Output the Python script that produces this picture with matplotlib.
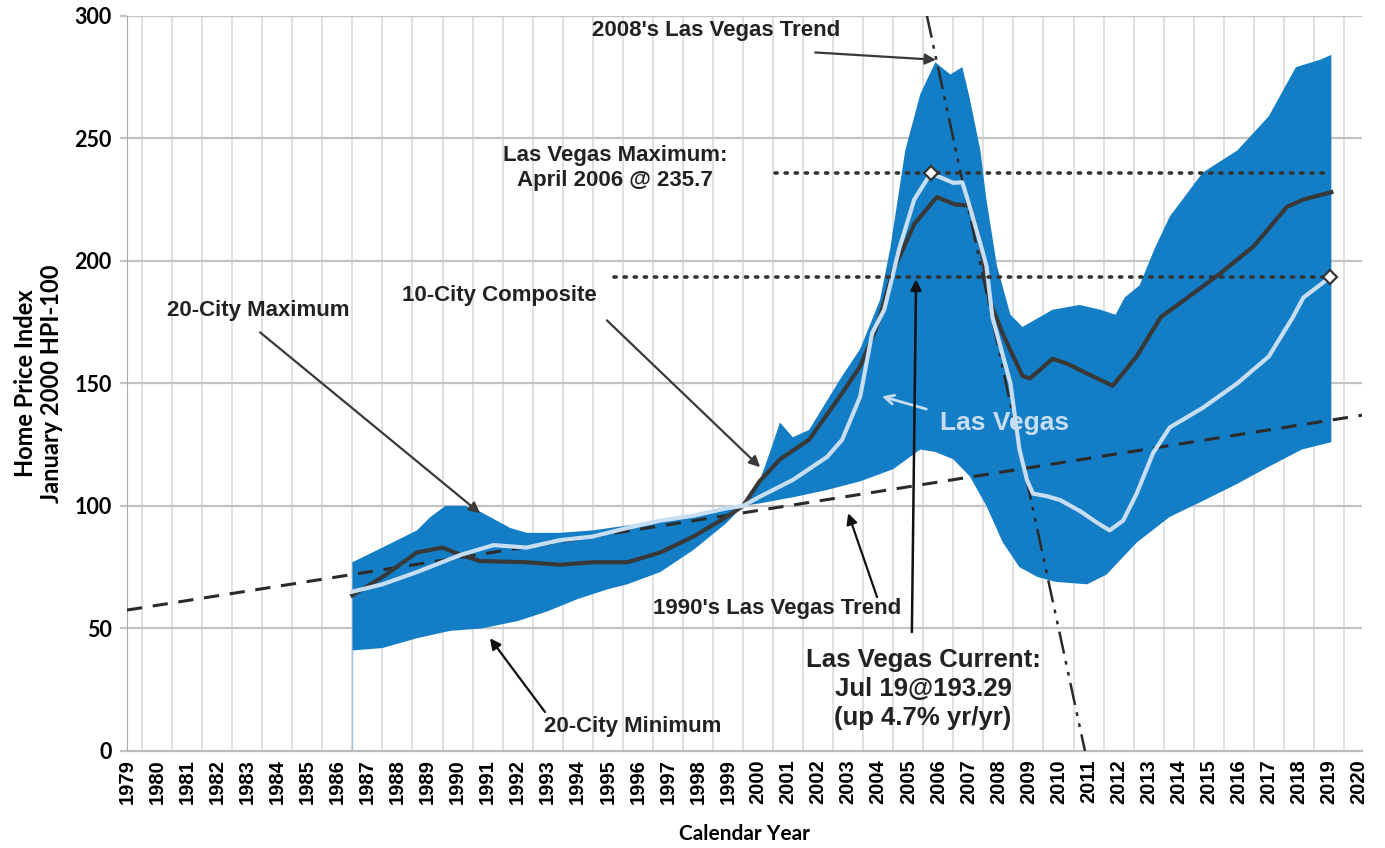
import numpy as np
import matplotlib
matplotlib.use("Agg")
import matplotlib.pyplot as plt
from matplotlib import font_manager

# ---- data (decimal years, index values) ----
max_x = [1987.0, 1988.0, 1989.15, 1989.6, 1990.1, 1990.75, 1991.2, 1992.25, 1992.8, 1993.9,
         1995.0, 1996.15, 1997.25, 1998.25, 1999.0, 2000.0, 2000.55, 2000.9, 2001.23, 2001.66,
         2002.2, 2003.3, 2003.9, 2004.56, 2004.9, 2005.4, 2005.9, 2006.4, 2006.9, 2007.3,
         2007.55, 2007.9, 2008.1, 2008.45, 2008.9, 2009.3, 2010.3, 2011.2, 2011.9, 2012.4,
         2012.7, 2013.2, 2013.7, 2014.2, 2015.3, 2016.45, 2017.5, 2018.4, 2019.2, 2019.58]
max_y = [77, 83, 90, 95.5, 100, 100, 98, 91, 89, 89,
         90, 92, 94, 96, 98, 100, 110, 122, 134, 128,
         131, 153, 164, 184, 205, 245, 268, 281, 276, 279,
         266, 245, 225, 198, 178, 173, 180, 182, 180, 178,
         185, 190, 205, 218, 236, 245, 259, 279, 282, 284]

min_x = [1987.0, 1988.0, 1989.15, 1990.25, 1991.3, 1992.5, 1993.5, 1994.5, 1995.5, 1996.15,
         1997.25, 1998.35, 1999.45, 2000.0, 2000.55, 2001.66, 2002.8, 2003.9, 2005.0, 2005.9,
         2006.4, 2007.0, 2007.55, 2008.1, 2008.65, 2009.2, 2009.8, 2010.4, 2011.45, 2012.1,
         2013.1, 2014.2, 2015.3, 2016.45, 2017.5, 2018.6, 2019.58]
min_y = [41, 42, 46, 49, 50, 53, 57, 62, 66, 68,
         73, 82, 93, 100, 101, 103.5, 106.5, 110, 115, 123,
         122, 119, 112, 100, 85, 75, 71, 69, 68, 72,
         85, 95.5, 102, 109, 116, 123, 126]

city10_x = [1987.0, 1988.0, 1989.15, 1990.0, 1990.6, 1991.25, 1992.8, 1993.9, 1995.0, 1996.15,
            1997.25, 1998.35, 1999.45, 2000.0, 2000.55, 2001.23, 2002.2, 2003.3, 2003.9, 2004.45,
            2005.0, 2005.7, 2006.45, 2007.05, 2007.55, 2007.9, 2008.2, 2008.65, 2009.3, 2009.55,
            2010.3, 2010.8, 2011.45, 2012.3, 2013.1, 2013.9, 2014.8, 2015.9, 2017.0, 2018.1,
            2018.65, 2019.58]
city10_y = [63.5, 71, 81, 83, 80, 77.5, 77, 76, 77, 77,
            81, 87.5, 95.5, 100, 110, 119, 127, 146, 157, 173,
            196, 215, 226, 223, 222.5, 207, 184, 170, 153, 152,
            160, 158, 154, 149, 161, 177, 185, 195, 206, 222,
            225, 228]

lv_x = [1987.0, 1988.0, 1989.15, 1990.6, 1991.7, 1992.8, 1993.9, 1995.0, 1996.15, 1997.25,
        1998.35, 1999.45, 2000.0, 2000.55, 2001.66, 2002.8, 2003.3, 2003.9, 2004.3, 2004.7,
        2005.2, 2005.7, 2006.25, 2007.0, 2007.3, 2007.55, 2007.9, 2008.1, 2008.3, 2008.9,
        2009.2, 2009.45, 2009.65, 2010.1, 2010.55, 2011.2, 2011.8, 2012.2, 2012.65, 2013.1,
        2013.65, 2014.2, 2015.3, 2016.45, 2017.5, 2018.3, 2018.65, 2019.54]
lv_y = [65, 68, 73, 80, 84, 83, 86, 87.5, 91, 94,
        96, 99, 100, 103.7, 110.6, 120, 127, 144.6, 170.6, 180,
        205, 225, 235.7, 231.8, 232, 222, 207, 198, 177, 150,
        123, 110.6, 105, 104, 102.4, 98, 93, 90, 94, 105,
        121.6, 132, 140, 150, 161, 177, 185, 193.29]

trend90_x = [1979.5, 2020.6]
trend90_y = [57.5, 137]
trend08_x = [2006.12, 2011.38]
trend08_y = [300, 0]

lv_max_date, lv_max = 2006.25, 235.7
lv_cur_date, lv_cur = 2019.54, 193.29

years = list(range(1979, 2021))
yticks = [0, 50, 100, 150, 200, 250, 300]

# ---- fonts ----
names = {f.name for f in font_manager.fontManager.ttflist}
arial = ['Liberation Sans', 'DejaVu Sans']
calibri = ['Lato', 'DejaVu Sans']
if 'Liberation Sans Narrow' in names:
    narrow, narrow_size = ['Liberation Sans Narrow', 'Liberation Sans'], 21
else:
    narrow, narrow_size = arial, 18.5

BLUE = '#137DC5'
DARK = '#383838'
LIGHT = '#C6DDF2'

fig = plt.figure(figsize=(13.85, 8.48), dpi=100)
ax = fig.add_axes([0.0917, 0.1144, 0.8917, 0.8671])

# grid
for yr in range(1980, 2021):
    ax.axvline(yr, color='#E0E0E0', lw=1.4, zorder=0)
for v in yticks[1:]:
    ax.axhline(v, color='#C4C4C4', lw=1.6, zorder=0)

# 20-city band
ax.fill(np.concatenate([max_x, min_x[::-1]]), np.concatenate([max_y, min_y[::-1]]),
        color=BLUE, lw=0, zorder=2)
ax.vlines(min_x[0], 0, min_y[0], color='#9DC3E6', lw=1, zorder=2)

# trends
ax.plot(trend90_x, trend90_y, color='#2B2B2B', lw=2.2, ls=(0, (5, 3.5)), zorder=3)
ax.plot(trend08_x, trend08_y, color='#2B2B2B', lw=1.8, ls=(0, (9, 3, 1.5, 3, 1.5, 3)), zorder=3)

# series
ax.plot(city10_x, city10_y, color=DARK, lw=3, zorder=4)
ax.plot(lv_x, lv_y, color=LIGHT, lw=3, zorder=5)

# dotted reference lines + markers
ax.plot([2001.06, lv_cur_date], [lv_max, lv_max], color='#333333', lw=2.6,
        ls=(0, (0.6, 2.2)), dash_capstyle='round', zorder=6)
ax.plot([1995.7, lv_cur_date], [lv_cur, lv_cur], color='#333333', lw=2.6,
        ls=(0, (0.6, 2.2)), dash_capstyle='round', zorder=6)
ax.plot([lv_max_date, lv_cur_date], [lv_max, lv_cur], ls='none', marker='D', ms=7,
        mfc='white', mec='#333333', mew=1.6, zorder=7)

# annotations
def arrow(tail, head, color='#3A3A3A', lw=1.6, style='-|>'):
    ax.annotate('', xy=head, xytext=tail, zorder=8,
                arrowprops=dict(arrowstyle=style, color=color, lw=lw,
                                mutation_scale=16, shrinkA=0, shrinkB=0))

tk = dict(fontfamily=arial, fontweight='bold', fontsize=16, color='#222222',
          ha='center', va='center', zorder=9)
ax.text(1999.1, 294, "2008's Las Vegas Trend", **tk)
arrow((2002.4, 285), (2006.42, 282))
ax.text(1995.74, 237.7, "Las Vegas Maximum:\nApril 2006 @ 235.7", linespacing=1.25, **tk)
ax.text(1991.9, 186, "10-City Composite", **tk)
arrow((1995.47, 175.7), (2000.57, 115.8))
ax.text(1983.86, 179.8, "20-City Maximum", **tk)
arrow((1983.93, 170.8), (1991.25, 97))
ax.text(2001.13, 58.3, "1990's Las Vegas Trend", **tk)
arrow((2004.46, 62.8), (2003.5, 97), color='#111111')
ax.text(1996.34, 9.8, "20-City Minimum", **tk)
arrow((1993.41, 15.9), (1991.58, 46), color='#111111')

ax.text(2008.72, 133.7, "Las Vegas", fontfamily=arial, fontweight='bold', fontsize=19,
        color=LIGHT, ha='center', va='center', zorder=9)
arrow((2006.1, 139.5), (2004.62, 144.7), color=LIGHT, lw=2, style='->')

ax.text(2005.99, 25.3, "Las Vegas Current:\nJul 19@193.29\n(up 4.7% yr/yr)",
        fontfamily=narrow, fontweight='bold', fontsize=narrow_size, color='#222222',
        ha='center', va='center', linespacing=1.25, zorder=9)
arrow((2005.62, 48.5), (2005.76, 192.5), color='#111111', lw=1.8)

# axes
ax.set_xlim(1979.5, 2020.6)
ax.set_ylim(0, 300)
ax.set_xticks([y + 0.5 for y in years])
ax.set_xticklabels([str(y) for y in years], rotation=90, fontfamily=arial,
                   fontweight='bold', fontsize=14.5)
ax.tick_params(axis='x', length=0, pad=6)
ax.set_yticks(yticks)
ax.set_yticklabels([str(v) for v in yticks], fontfamily=calibri, fontweight='bold', fontsize=15.5)
ax.tick_params(axis='y', length=5, color='#C4C4C4', width=1.6, pad=6)
for s in ['top', 'right']:
    ax.spines[s].set_visible(False)
ax.spines['left'].set_color('#AAAAAA')
ax.spines['bottom'].set_color('#BBBBBB')
ax.spines['bottom'].set_linewidth(1.6)

ax.set_ylabel("Home Price Index\nJanuary 2000 HPI-100", fontfamily=calibri,
              fontweight='bold', fontsize=17, linespacing=1.15, labelpad=8)
ax.set_xlabel("Calendar Year", fontfamily=calibri, fontweight='bold', fontsize=15,
              labelpad=14)

fig.savefig("out.png", dpi=100)
